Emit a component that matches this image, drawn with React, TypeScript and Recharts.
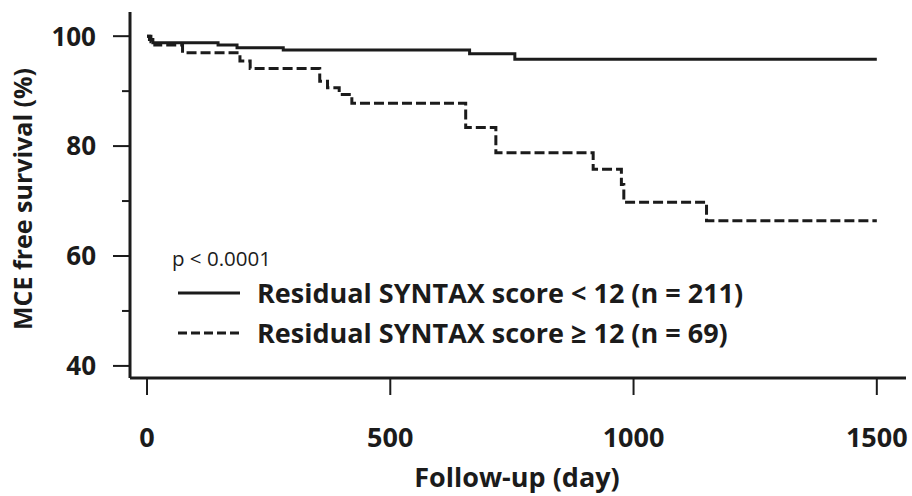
import { LineChart, Line, XAxis, YAxis, Legend } from "recharts";

// Kaplan-Meier steps (day, % event free)
const lowDays = [0, 5, 12, 146, 185, 280, 663, 756, 1500];
const lowSurv = [100, 99.4, 98.8, 98.4, 97.9, 97.5, 96.8, 95.8, 95.8];

const highDays = [0, 8, 16, 73, 191, 212, 355, 371, 395, 421, 655, 717, 917, 975, 980, 1150, 1500];
const highSurv = [100, 99.0, 98.4, 97.0, 95.5, 94.1, 91.8, 90.6, 89.4, 87.8, 83.4, 78.8, 75.8, 73.0, 69.8, 66.4, 66.4];

const xTicks = [0, 500, 1000, 1500];
const yTicks = [40, 50, 60, 70, 80, 90, 100];
const yLabelled = [40, 60, 80, 100];

const lowLabel = "Residual SYNTAX score < 12 (n = 211)";
const highLabel = "Residual SYNTAX score \u2265 12 (n = 69)";
const pText = "p < 0.0001";

const lowData = lowDays.map((d, i) => ({ day: d, surv: lowSurv[i] }));
const highData = highDays.map((d, i) => ({ day: d, surv: highSurv[i] }));

const INK = "#1b1b1b";
const FONT = "'Open Sans', Lato, sans-serif";

function YTick({ x, y, payload }: any) {
  const major = yLabelled.includes(payload.value);
  return (
    <g>
      <line x1={x - (major ? 17 : 8)} x2={x} y1={y} y2={y} stroke={INK} strokeWidth={2} />
      {major && (
        <text x={x - 34} y={y} dy="0.36em" textAnchor="end" fontSize={26} fontWeight={700} fill={INK} fontFamily={FONT}>
          {payload.value}
        </text>
      )}
    </g>
  );
}

function XTick({ x, y, payload }: any) {
  return (
    <g>
      <line x1={x} x2={x} y1={y} y2={y + 17} stroke={INK} strokeWidth={2} />
      <text x={x} y={y + 69} textAnchor="middle" fontSize={27} fontWeight={700} fill={INK} fontFamily={FONT}>
        {payload.value}
      </text>
    </g>
  );
}

// p value + key, drawn as one block inside the plot
function KeyBox() {
  return (
    <svg width={640} height={115} style={{ fontFamily: FONT, display: "block" }}>
      <text x={0} y={30} fontSize={20.5} fill={INK}>{pText}</text>
      <line x1={6} x2={68} y1={57} y2={57} stroke={INK} strokeWidth={3} />
      <text x={85} y={57} dy="0.36em" fontSize={27} fontWeight={700} fill={INK}>{lowLabel}</text>
      <line x1={6} x2={68} y1={97} y2={97} stroke={INK} strokeWidth={3} strokeDasharray="9 4" />
      <text x={85} y={97} dy="0.36em" fontSize={27} fontWeight={700} fill={INK}>{highLabel}</text>
    </svg>
  );
}

export default function App() {
  return (
    <div style={{ position: "absolute", left: 0, top: 0, width: 912, height: 496, background: "#fff" }}>
      <LineChart width={912} height={496} margin={{ top: 12, right: 6, bottom: 0, left: 0 }}>
        <XAxis
          type="number"
          dataKey="day"
          domain={[-35, 1560]}
          ticks={xTicks}
          allowDataOverflow
          height={118}
          tickSize={0}
          tickMargin={0}
          tickLine={false}
          tick={<XTick />}
          axisLine={{ stroke: INK, strokeWidth: 3 }}
          label={{
            value: "Follow-up (day)",
            position: "insideBottom",
            offset: 9,
            dx: -1,
            style: { fontSize: 27, fontWeight: 700, fill: INK, fontFamily: FONT },
          }}
        />
        <YAxis
          type="number"
          domain={[37.8, 104.4]}
          ticks={yTicks}
          allowDataOverflow
          width={130}
          tickSize={0}
          tickMargin={0}
          tickLine={false}
          tick={<YTick />}
          axisLine={{ stroke: INK, strokeWidth: 3 }}
          label={{
            value: "MCE free survival (%)",
            angle: -90,
            position: "insideLeft",
            offset: 23,
            dy: 4,
            style: { textAnchor: "middle", fontSize: 25, fontWeight: 700, fill: INK, fontFamily: FONT },
          }}
        />
        <Legend
          layout="horizontal"
          verticalAlign="middle"
          align="center"
          content={() => <KeyBox />}
          wrapperStyle={{ left: 172, top: 236, width: 640, height: 115 }}
        />
        <Line
          data={lowData}
          dataKey="surv"
          type="stepAfter"
          stroke={INK}
          strokeWidth={3}
          dot={false}
          isAnimationActive={false}
        />
        <Line
          data={highData}
          dataKey="surv"
          type="stepAfter"
          stroke={INK}
          strokeWidth={3}
          strokeDasharray="10 4"
          dot={false}
          isAnimationActive={false}
        />
      </LineChart>
    </div>
  );
}
